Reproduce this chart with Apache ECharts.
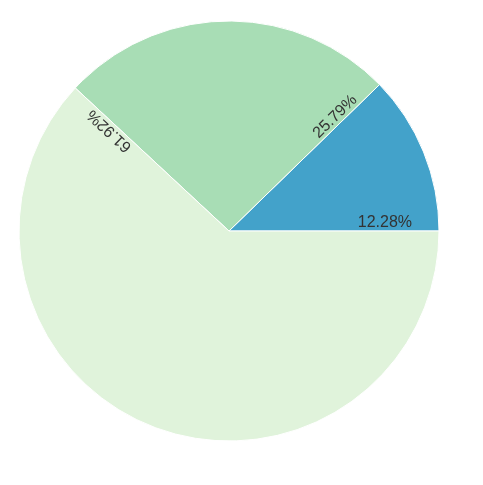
<!DOCTYPE html>
<html>
<head>
<meta charset="utf-8">
<script src="https://cdn.jsdelivr.net/npm/echarts@6/dist/echarts.min.js"></script>
<style>html,body{margin:0;padding:0;background:#fff;}#c{width:483px;height:485px;}</style>
</head>
<body>
<div id="c"></div>
<script>
var categories = ['A', 'B', 'C'];
var values = [12.28, 25.79, 61.92];
var colors = ['#43a2ca', '#a8ddb5', '#e0f3db'];

var CX = 229, CY = 231, R = 210, LABEL_R = 183;
var total = values.reduce(function (a, b) { return a + b; }, 0);
var starts = [];
var acc = 0;
values.forEach(function (v) { starts.push(acc / total * 360); acc += v; });

var chart = echarts.init(document.getElementById('c'), null, { renderer: 'canvas' });
chart.setOption({
  animation: false,
  series: [{
    type: 'pie',
    center: [CX, CY],
    radius: [0, R],
    startAngle: 0,
    clockwise: false,
    data: categories.map(function (c, i) {
      return { name: c, value: values[i], itemStyle: { color: colors[i] } };
    }),
    itemStyle: { borderColor: '#ffffff', borderWidth: 1 },
    label: {
      show: true,
      position: 'inside',
      formatter: function (p) { return p.value.toFixed(2) + '%'; },
      fontFamily: 'Liberation Sans, Arial, sans-serif',
      fontSize: 16,
      color: '#333333'
    },
    labelLine: { show: false },
    emphasis: { disabled: true },
    labelLayout: function (p) {
      var a = starts[p.dataIndex];
      var rad = a * Math.PI / 180;
      return {
        x: CX + LABEL_R * Math.cos(rad),
        y: CY - LABEL_R * Math.sin(rad),
        rotate: a,
        align: 'right',
        verticalAlign: 'bottom'
      };
    }
  }]
});
</script>
</body>
</html>
